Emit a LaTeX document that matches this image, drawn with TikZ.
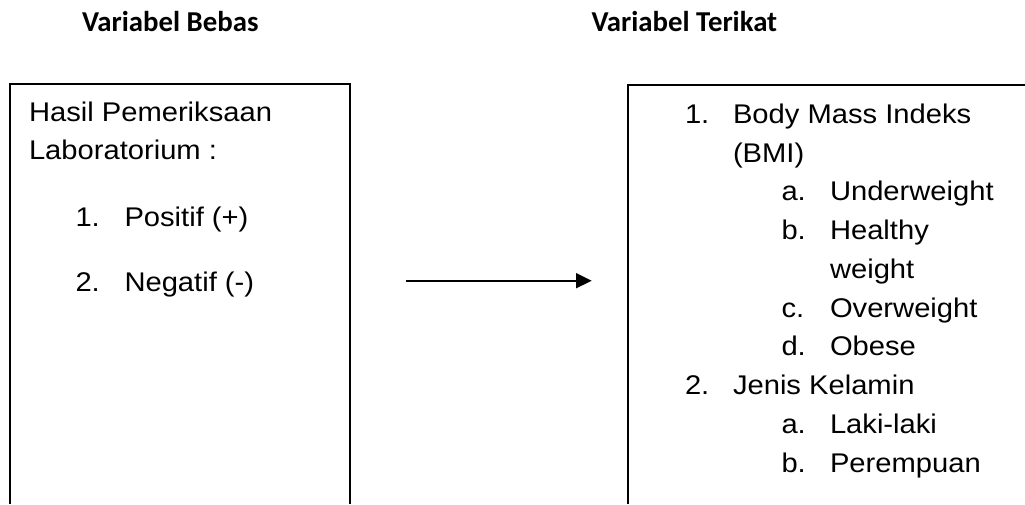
\documentclass[tikz,border=0pt]{standalone}
\usepackage{fontspec}
\usetikzlibrary{arrows.meta}
\newfontfamily\bodyfont[FakeStretch=1.08]{Liberation Sans}
\newfontfamily\headfont{Carlito}

\tikzset{
  item/.style={anchor=base west, inner sep=0pt, outer sep=0pt,
    font=\bodyfont\fontsize{27}{32}\selectfont, text=black},
  heading/.style={anchor=base west, inner sep=0pt, outer sep=0pt,
    font=\headfont\bfseries\fontsize{28.8}{34}\selectfont, text=black},
  frame/.style={draw=black, line width=2pt},
  link/.style={draw=black, line width=2pt, -{Triangle[length=15.7pt, width=15pt]}}
}

\begin{document}
\begin{tikzpicture}[x=1pt, y=-1pt]
  \useasboundingbox (0,0) rectangle (1025,504);

  % headings
  \node[heading] (hbebas)   at (82, 31) {Variabel Bebas};
  \node[heading] (hterikat) at (591.5, 31) {Variabel Terikat};

  % open frames running past the page edges
  \draw[frame] (10.3,504) -- (10.3,84.3) -- (350,84.3) -- (350,504);
  \draw[frame] (628.3,504) -- (628.3,85) -- (1025,85);

  % independent variable
  \node[item] (l1) at (29, 121.7) {Hasil Pemeriksaan};
  \node[item] (l2) at (29, 159.5) {Laboratorium :};
  \node[item] (n1) at (75.5, 226.7) {1.};
  \node[item] (p1) at (124.5, 226.7) {Positif (+)};
  \node[item] (n2) at (75.5, 291.7) {2.};
  \node[item] (p2) at (124.5, 291.7) {Negatif (-)};

  % dependent variables
  \node[item] (rn1) at (685, 123.3) {1.};
  \node[item] (r1)  at (733, 123.3) {Body Mass Indeks};
  \node[item] (r1b) at (733, 162.0) {(BMI)};
  \node[item] (ra)  at (781.5, 200.8) {a.};
  \node[item] (r1a) at (830, 200.8) {Underweight};
  \node[item] (rb)  at (781.5, 239.5) {b.};
  \node[item] (r1c) at (830, 239.5) {Healthy};
  \node[item] (r1d) at (830, 278.3) {weight};
  \node[item] (rc)  at (781.5, 317.0) {c.};
  \node[item] (r1e) at (830, 317.0) {Overweight};
  \node[item] (rd)  at (781.5, 355.7) {d.};
  \node[item] (r1f) at (830, 355.7) {Obese};
  \node[item] (rn2) at (685, 394.5) {2.};
  \node[item] (r2)  at (733, 394.5) {Jenis Kelamin};
  \node[item] (ra2) at (781.5, 433.2) {a.};
  \node[item] (r2a) at (830, 433.2) {Laki-laki};
  \node[item] (rb2) at (781.5, 472.0) {b.};
  \node[item] (r2b) at (830, 472.0) {Perempuan};

  % connector
  \coordinate (astart) at (406, 280.7);
  \coordinate (aend)   at (591.7, 280.7);
  \draw[link] (astart) -- (aend);
\end{tikzpicture}
\end{document}
